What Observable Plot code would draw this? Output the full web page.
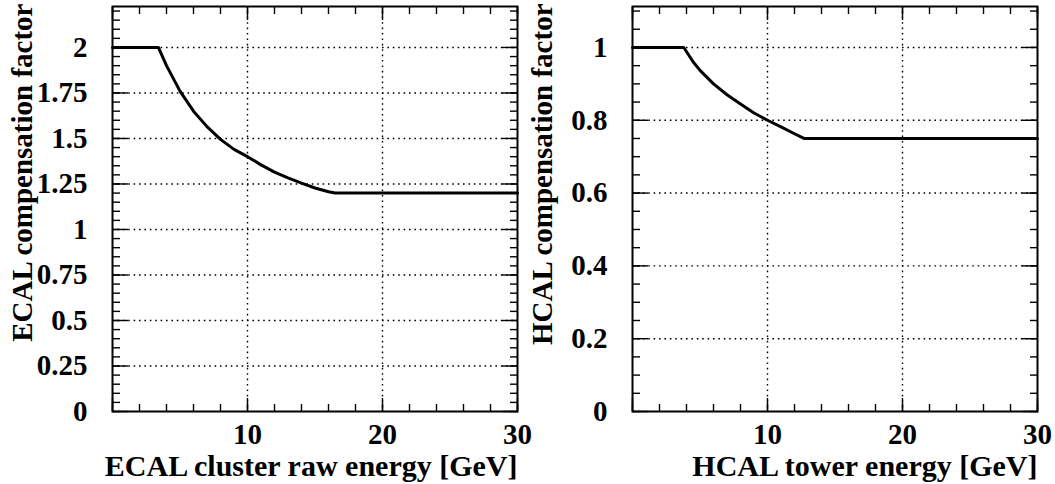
<!DOCTYPE html>
<html>
<head>
<meta charset="utf-8">
<script src="https://cdn.jsdelivr.net/npm/d3@7"></script>
<script src="https://cdn.jsdelivr.net/npm/@observablehq/plot@0.6"></script>
<style>
  html, body { margin: 0; padding: 0; background: #fff; }
  #charts { display: flex; width: 1055px; height: 484px; background: #fff; }
  #charts svg { overflow: visible; }
</style>
</head>
<body>
<div id="charts"></div>
<script>
// ECAL cluster compensation factor vs raw cluster energy [GeV]
const ecalEnergy = [0, 3.4, 4, 5, 6, 7, 8, 9, 10, 11, 12, 13, 14, 15, 16, 16.5, 30];
const ecalFactor = [2, 2, 1.9, 1.76, 1.65, 1.565, 1.495, 1.44, 1.40, 1.355, 1.315, 1.283, 1.255, 1.228, 1.207, 1.2, 1.2];

// HCAL tower compensation factor vs tower energy [GeV]
const hcalEnergy = [0, 3.8, 4.5, 5, 6, 7, 8, 9, 10, 11, 12, 12.7, 30];
const hcalFactor = [1, 1, 0.96, 0.937, 0.9, 0.87, 0.845, 0.82, 0.8, 0.782, 0.763, 0.75, 0.75];

// Axis ticks
const energyLabels = [10, 20, 30];
const energyMajor = [0, 10, 20, 30];
const energyMinor = d3.range(0, 30.001, 2);
const ecalLabels = [0, 0.25, 0.5, 0.75, 1, 1.25, 1.5, 1.75, 2];
const ecalMinor = d3.range(0, 2.2001, 0.05);
const hcalLabels = [0, 0.2, 0.4, 0.6, 0.8, 1];
const hcalMinor = d3.range(0, 1.1001, 0.05);

const serif = "'Liberation Serif', 'Times New Roman', Times, serif";

function panel({energy, factor, yDomain, yMajor, yMinor, xTitle, yTitle, width, marginLeft, marginRight}) {
  const pts = energy.map((e, i) => ({e, f: factor[i]}));
  const tickStyle = {stroke: "black", strokeWidth: 1.4, fill: "none", label: null};
  const labelStyle = {tickSize: 0, fontSize: 29, fontWeight: "bold", fill: "black", label: null, tickFormat: d => `${d}`};
  const dotted = {stroke: "black", strokeOpacity: 1, strokeWidth: 1.4, strokeDasharray: "1.6,3.8"};
  return Plot.plot({
    width,
    height: 484,
    marginTop: 6,
    marginBottom: 73,
    marginLeft,
    marginRight,
    x: {domain: [0, 30]},
    y: {domain: yDomain},
    // transparent so that labels overflowing into the neighbouring panel stay visible
    style: {fontFamily: serif, background: "none", color: "black", overflow: "visible"},
    marks: [
      Plot.gridX(energyMajor.slice(1, -1), dotted),
      Plot.gridY(yMajor.slice(1), dotted),
      // inward-pointing ticks on all four sides
      Plot.axisX({anchor: "bottom", ticks: energyMajor, tickSize: -13, ...tickStyle}),
      Plot.axisX({anchor: "bottom", ticks: energyMinor, tickSize: -7, ...tickStyle}),
      Plot.axisX({anchor: "top", ticks: energyMajor, tickSize: -13, ...tickStyle}),
      Plot.axisX({anchor: "top", ticks: energyMinor, tickSize: -7, ...tickStyle}),
      Plot.axisY({anchor: "left", ticks: yMajor, tickSize: -16, ...tickStyle}),
      Plot.axisY({anchor: "left", ticks: yMinor, tickSize: -8, ...tickStyle}),
      Plot.axisY({anchor: "right", ticks: yMajor, tickSize: -16, ...tickStyle}),
      Plot.axisY({anchor: "right", ticks: yMinor, tickSize: -8, ...tickStyle}),
      // tick labels
      Plot.axisX({anchor: "bottom", ticks: energyLabels, tickPadding: 12, ...labelStyle}),
      Plot.axisY({anchor: "left", ticks: yMajor, tickPadding: 25, textAnchor: "end", ...labelStyle}),
      // the compensation curve
      Plot.line(pts, {x: "e", y: "f", stroke: "black", strokeWidth: 3, strokeLinejoin: "round"}),
      Plot.frame({stroke: "black", strokeWidth: 2}),
      // axis titles
      Plot.text([xTitle], {frameAnchor: "bottom-right", textAnchor: "end", lineAnchor: "bottom", dy: 64, fontSize: 30, fontWeight: "bold", fill: "black"}),
      Plot.text([yTitle], {frameAnchor: "top-left", rotate: -90, textAnchor: "end", lineAnchor: "bottom", dx: -81, dy: -3, fontSize: 29, fontWeight: "bold", fill: "black"})
    ]
  });
}

const root = document.getElementById("charts");
root.append(panel({
  energy: ecalEnergy, factor: ecalFactor,
  yDomain: [0, 2.225], yMajor: ecalLabels, yMinor: ecalMinor,
  xTitle: "ECAL cluster raw energy [GeV]", yTitle: "ECAL compensation factor",
  width: 528, marginLeft: 112, marginRight: 11
}));
root.append(panel({
  energy: hcalEnergy, factor: hcalFactor,
  yDomain: [0, 1.1125], yMajor: hcalLabels, yMinor: hcalMinor,
  xTitle: "HCAL tower energy [GeV]", yTitle: "HCAL compensation factor",
  width: 527, marginLeft: 104, marginRight: 18
}));
</script>
</body>
</html>
